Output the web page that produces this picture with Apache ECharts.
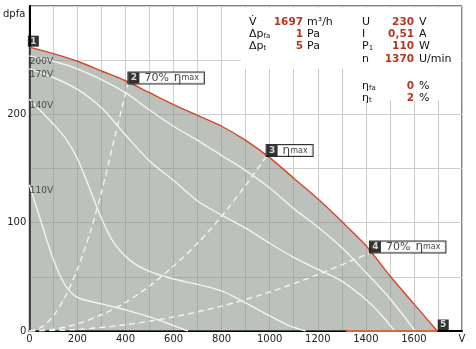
<!DOCTYPE html>
<html>
<head>
<meta charset="utf-8">
<script src="https://cdn.jsdelivr.net/npm/echarts@6/dist/echarts.min.js"></script>
<style>
  html, body { margin: 0; padding: 0; background: #fff; }
  #chart { width: 476px; height: 349px; }
</style>
</head>
<body>
<div id="chart"></div>
<script>
// Fan characteristic: flow rate V (m³/h) against static pressure dpfa (Pa)
const maxCurve = [[0,262],[100,256],[200,249],[300,240],[400,231],[500,220],[600,209],[700,199],[800,189],[900,176],[1000,160],[1100,141],[1200,122],[1300,101],[1400,79],[1500,51],[1600,25],[1697,0]];
const stallLine = [[1318,0],[1697,0]];

// Speed-controlled curves at reduced supply voltage
const curve200V = [[0,254],[100,249],[200,242],[300,232],[400,220],[500,204],[600,189],[700,176],[800,162],[900,148],[1000,132],[1100,113],[1200,96],[1300,77],[1400,54],[1500,30],[1605,0]];
const curve170V = [[0,242],[100,234],[200,223],[300,206],[400,181],[500,157],[600,139],[700,120],[800,107],[900,95],[1000,81],[1100,68],[1200,57],[1300,46],[1400,29],[1460,16],[1520,0]];
const curve140V = [[0,214],[100,191],[150,178],[200,159],[250,132],[300,104],[350,82],[420,65],[500,55],[600,48],[700,43],[800,37],[900,26],[1000,14],[1080,5],[1150,0]];
const curve110V = [[0,135],[50,100],[100,66],[150,42],[200,31],[300,25],[400,19.5],[500,13],[600,5],[660,0]];
const voltageCurves = [
  { name: '200V', data: curve200V },
  { name: '170V', data: curve170V },
  { name: '140V', data: curve140V },
  { name: '110V', data: curve110V }
];

// System resistance lines through the marked operating points
const systemLow  = [[0,0],[50,3.5],[100,14],[150,32],[200,57],[250,89],[300,128],[350,174],[410,228]];
const systemMid  = [[0,0],[100,1.7],[200,6.6],[300,15],[400,26.5],[500,41.5],[600,60],[700,81],[800,106],[900,134.5],[985,161]];
const systemHigh = [[0,0],[200,1.4],[400,5.8],[600,13],[800,23],[1000,36],[1200,52],[1415,72]];

// Marked operating points on the maximum curve
const pointIds  = ['1', '2', '3', '4', '5'];
const pointXY   = [[0,262],[410,228],[985,161],[1415,72],[1697,0]];
const pointTags = ['', '70%', '', '70%', ''];
const pointEta  = [false, true, true, true, false];

// Axis unit labels shown in place of the last tick
const xUnitLabel = 'V';
const yUnitLabel = 'dpfa';

// Operating data table
const infoLeft = [
  ['{b|V\u0307}', '1697', 'm³/h'],
  ['{b|\u0394p}{s|fa}', '1', 'Pa'],
  ['{b|\u0394p}{s|t}', '5', 'Pa']
];
const infoRight = [
  ['{b|U}', '230', 'V'],
  ['{b|I}', '0,51', 'A'],
  ['{b|P}{s|1}', '110', 'W'],
  ['{b|n}', '1370', 'U/min'],
  ['{b|\u03b7}{s|fa}', '0', '%'],
  ['{b|\u03b7}{s|t}', '2', '%']
];

const FONT = '"DejaVu Sans", Verdana, sans-serif';
const RED = '#d6452a';
const VALUE_RED = '#b8361f';

const chart = echarts.init(document.getElementById('chart'), null, { renderer: 'canvas' });

const whiteLine = { color: '#f3f3ef', width: 1.4 };

const series = [];

// grey area below the maximum curve
series.push({
  type: 'line', data: maxCurve, symbol: 'none', smooth: 0.25,
  lineStyle: { width: 0 },
  areaStyle: { color: 'rgba(138,144,136,0.56)', opacity: 1, origin: 'start' },
  z: 1,
  markArea: {
    silent: true,
    itemStyle: { color: '#ffffff', opacity: 1 },
    data: [
      [{ xAxis: 880, yAxis: 242 }, { xAxis: 1796, yAxis: 298.5 }],
      [{ xAxis: 1320, yAxis: 213 }, { xAxis: 1796, yAxis: 298.5 }]
    ]
  }
});

voltageCurves.forEach(c => {
  series.push({
    type: 'line', data: c.data, symbol: 'none', smooth: 0.3,
    lineStyle: whiteLine, z: 3
  });
});

[systemLow, systemMid, systemHigh].forEach(d => {
  series.push({
    type: 'line', data: d, symbol: 'none', smooth: 0.3,
    lineStyle: { color: '#f3f3ef', width: 1.4, type: [6, 4] }, z: 3
  });
});

// maximum curve outline
series.push({
  type: 'line', data: maxCurve, symbol: 'none', smooth: 0.25,
  lineStyle: { color: RED, width: 1.4 }, z: 4
});
series.push({
  type: 'line', data: stallLine, symbol: 'none',
  lineStyle: { color: '#e8603a', width: 2.2 }, z: 4
});

// voltage names at the start of each curve
series.push({
  type: 'scatter', symbolSize: 1, itemStyle: { color: 'rgba(0,0,0,0)' }, z: 5,
  data: voltageCurves.map(c => [c.data[0][0], c.data[0][1], c.name]),
  label: {
    show: true, position: [1, 2], formatter: p => p.value[2],
    color: '#2a2a2a', fontFamily: FONT, fontSize: 9
  },
  silent: true
});

// numbered operating point badges
series.push({
  type: 'scatter', symbolSize: 1, itemStyle: { color: 'rgba(0,0,0,0)' }, z: 6, silent: true,
  data: pointXY.map((xy, i) => {
    const boxed = pointEta[i];
    let text = '{n|' + pointIds[i] + '}';
    if (boxed) {
      if (pointTags[i]) text += '{p|' + pointTags[i] + '}';
      text += '{e|\u03b7}{m|max}';
    }
    return {
      value: xy,
      label: {
        show: true, formatter: text,
        position: [i === 0 ? -1 : 1, 0], align: 'left', verticalAlign: 'bottom',
        backgroundColor: boxed ? '#fff' : 'transparent',
        borderColor: boxed ? '#000' : 'transparent',
        borderWidth: boxed ? 1 : 0,
        padding: boxed ? [0, 5, 0, 0] : 0
      }
    };
  }),
  label: {
    fontFamily: FONT,
    rich: {
      n: { backgroundColor: '#000', color: '#fff', fontWeight: 'bold', fontSize: 9, fontFamily: FONT,
           width: 11, height: 11, lineHeight: 11, align: 'center' },
      p: { fontSize: 11, color: '#111', fontFamily: FONT, padding: [0, 0, 0, 5], lineHeight: 11 },
      e: { fontSize: 12, color: '#111', fontFamily: FONT, padding: [0, 0, 0, 5], lineHeight: 11 },
      m: { fontSize: 8, color: '#111', fontFamily: FONT, lineHeight: 11 }
    }
  }
});

// data table text
const graphic = [];
const rich = {
  b: { fontSize: 11, fontFamily: FONT, fill: '#111', color: '#111' },
  s: { fontSize: 7, fontFamily: FONT, fill: '#111', color: '#111', verticalAlign: 'bottom', padding: [4, 0, 0, 0] }
};
function addRow(row, y, xLabel, xValue, xUnit) {
  graphic.push({ type: 'text', x: xLabel, y: y, z: 10,
    style: { text: row[0], rich: rich, verticalAlign: 'middle', align: 'left', font: '11px ' + FONT, fill: '#111' } });
  graphic.push({ type: 'text', x: xValue, y: y, z: 10,
    style: { text: row[1], verticalAlign: 'middle', align: 'right', font: 'bold 10.5px ' + FONT, fill: VALUE_RED } });
  graphic.push({ type: 'text', x: xUnit, y: y, z: 10,
    style: { text: row[2], verticalAlign: 'middle', align: 'left', font: '11px ' + FONT, fill: '#111' } });
}
const leftRowsY = [22, 34, 46];
const rightRowsY = [22, 34, 46, 59, 86, 98];
infoLeft.forEach((r, i) => addRow(r, leftRowsY[i], 249, 303, 307));
infoRight.forEach((r, i) => addRow(r, rightRowsY[i], 362, 414, 419));

chart.setOption({
  animation: false,
  backgroundColor: '#fff',
  grid: { left: 25, right: 14, top: 6, bottom: 18, show: true, borderColor: '#000', borderWidth: 1, backgroundColor: 'transparent' },
  xAxis: {
    type: 'value', min: 0, max: 1800, interval: 100,
    axisLine: { show: true, lineStyle: { color: '#000', width: 2 } },
    axisTick: { show: false },
    splitLine: { show: true, lineStyle: { color: '#cdcdcd', width: 1 } },
    axisLabel: {
      margin: 3, color: '#222', fontFamily: FONT, fontSize: 10,
      formatter: v => v === 1800 ? xUnitLabel : (v % 200 === 0 ? String(v) : '')
    }
  },
  yAxis: {
    type: 'value', min: 0, max: 300, interval: 50,
    name: yUnitLabel, nameLocation: 'end', nameGap: -8,
    nameTextStyle: { align: 'right', verticalAlign: 'middle', padding: [0, 4, 0, 0], color: '#222', fontFamily: FONT, fontSize: 10 },
    axisLine: { show: true, lineStyle: { color: '#000', width: 2 } },
    axisTick: { show: false },
    splitLine: { show: true, lineStyle: { color: '#cdcdcd', width: 1 } },
    axisLabel: {
      margin: 3, color: '#222', fontFamily: FONT, fontSize: 10,
      formatter: v => (v % 100 === 0 && v < 300) ? String(v) : ''
    }
  },
  series: series,
  graphic: graphic
});
</script>
</body>
</html>
